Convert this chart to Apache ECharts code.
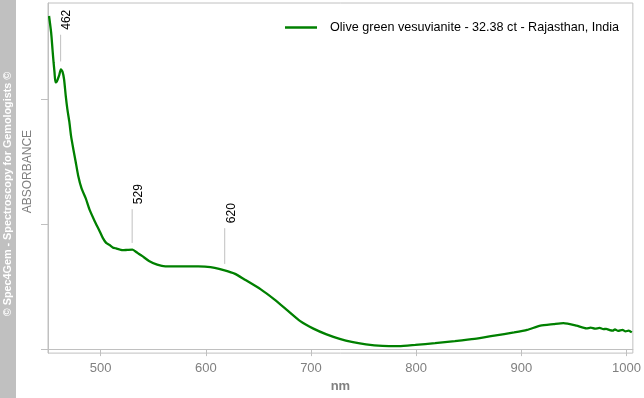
<!DOCTYPE html>
<html>
<head>
<meta charset="utf-8">
<title>vesuvianite absorbance</title>
<script src="https://cdn.jsdelivr.net/npm/echarts@6/dist/echarts.min.js"></script>
<style>
  html, body { margin: 0; padding: 0; background: #fff; }
  #chart { width: 644px; height: 398px; }
</style>
</head>
<body>
<div id="chart"></div>
<script>
// spectrum (nm / relative absorbance)
var wavelengths = [451, 453, 454.3, 455.3, 456.2, 457.1, 458.4, 460.6, 462.2, 463.7,
  465.3, 466.9, 468.4, 470.3, 471.9, 474, 476.3, 478.7, 481.9, 485.9,
  489.7, 494.4, 499.1, 502.2, 505.3, 508.4, 511.5, 514.7, 520.9, 525.3,
  530.3, 535, 539.7, 546, 553.8, 561.6, 577.2, 592.9, 599.2, 608.5,
  617.9, 627.3, 636.7, 652.3, 664.8, 677.3, 689.8, 702.3, 714.8, 727.3,
  739.9, 752.3, 768, 783.6, 799.2, 818, 836.8, 855.5, 874.3, 893.1,
  905.5, 918.1, 930.6, 940, 952.4, 961.8, 966, 970, 974.4, 978,
  980.6, 984, 986.9, 989, 992, 996.2, 999, 1002, 1005];
var absorbance = [1.333, 1.266, 1.198, 1.147, 1.107, 1.067, 1.071, 1.095, 1.119, 1.111,
  1.079, 1.012, 0.960, 0.909, 0.853, 0.802, 0.750, 0.694, 0.643, 0.603,
  0.556, 0.512, 0.472, 0.444, 0.425, 0.417, 0.407, 0.403, 0.396, 0.397,
  0.398, 0.385, 0.372, 0.353, 0.338, 0.331, 0.331, 0.331, 0.330, 0.325,
  0.315, 0.302, 0.279, 0.239, 0.200, 0.156, 0.112, 0.082, 0.059, 0.041,
  0.028, 0.019, 0.013, 0.012, 0.017, 0.024, 0.032, 0.041, 0.054, 0.067,
  0.077, 0.094, 0.100, 0.104, 0.094, 0.083, 0.086, 0.082, 0.085, 0.080,
  0.081, 0.076, 0.074, 0.079, 0.073, 0.077, 0.071, 0.074, 0.067];

var seriesName = 'Olive green vesuvianite - 32.38 ct - Rajasthan, India';
var xTicks = [500, 600, 700, 800, 900, 1000];
var yTicks = [0, 0.5, 1];

// peak marks: where the line sits, its bottom/top and the printed label
var peakPos = [462, 530, 618];
var peakBottom = [1.151, 0.425, 0.341];
var peakTop = [1.258, 0.560, 0.484];
var peakLabels = ['462', '529', '620'];

var lineData = wavelengths.map(function (w, i) { return [w, absorbance[i]]; });
var peakData = peakPos.map(function (p, i) { return [p, peakBottom[i], peakTop[i]]; });

var myChart = echarts.init(document.getElementById('chart'), null, { renderer: 'canvas' });

var option = {
  animation: false,
  backgroundColor: '#fff',
  grid: {
    left: 48, right: 4, top: 3, bottom: 42,
    show: true, borderColor: '#c0c0c0', borderWidth: 1
  },
  legend: {
    left: 285, top: 21, padding: 0,
    itemWidth: 32, itemHeight: 2.5,
    data: [{ name: seriesName, icon: 'rect' }],
    textStyle: { fontFamily: 'Arial, "Liberation Sans", sans-serif', fontSize: 12.6, color: '#000', padding: [0, 0, 0, 8] }
  },
  xAxis: {
    type: 'value',
    min: 450, max: 1006,
    name: 'nm', nameLocation: 'middle', nameGap: 25,
    nameTextStyle: { fontFamily: 'Arial, "Liberation Sans", sans-serif', fontWeight: 'bold', fontSize: 13, color: '#808080' },
    axisLine: { show: true, lineStyle: { color: '#c0c0c0' } },
    axisTick: { show: true, length: 7, customValues: xTicks, lineStyle: { color: '#c0c0c0' } },
    axisLabel: {
      customValues: xTicks, margin: 9,
      formatter: function (v) { return String(v); },
      fontFamily: 'Arial, "Liberation Sans", sans-serif', fontSize: 13, color: '#808080'
    },
    splitLine: { show: false }
  },
  yAxis: {
    type: 'value',
    min: -0.0159, max: 1.385,
    name: 'ABSORBANCE', nameLocation: 'middle', nameGap: 14,
    nameTextStyle: { fontFamily: 'Arial, "Liberation Sans", sans-serif', fontSize: 12, color: '#808080', padding: [0, 0, 0, 13] },
    axisLine: { show: true, lineStyle: { color: '#c0c0c0' } },
    axisTick: { show: true, length: 7, customValues: yTicks, lineStyle: { color: '#c0c0c0' } },
    axisLabel: { show: false },
    splitLine: { show: false }
  },
  graphic: [
    { type: 'rect', left: 0, top: 0, shape: { width: 16, height: 398 }, style: { fill: '#c0c0c0' }, silent: true },
    {
      type: 'text', x: 8, y: 194, rotation: Math.PI / 2,
      style: {
        text: '© Spec4Gem - Spectroscopy for Gemologists ©',
        font: 'bold 10.8px Arial, "Liberation Sans", sans-serif',
        fill: '#fff', align: 'center', verticalAlign: 'middle'
      }
    }
  ],
  series: [
    {
      name: seriesName,
      type: 'line',
      data: lineData,
      symbol: 'none',
      smooth: 0.2,
      color: '#008000',
      lineStyle: { color: '#008000', width: 2.3 }
    },
    {
      // vertical marker lines with rotated wavelength labels
      name: 'peaks',
      type: 'custom',
      data: peakData,
      encode: { x: 0, y: [1, 2] },
      silent: true,
      renderItem: function (params, api) {
        var bot = api.coord([api.value(0), api.value(1)]);
        var top = api.coord([api.value(0), api.value(2)]);
        return {
          type: 'group',
          children: [
            {
              type: 'line',
              shape: { x1: bot[0], y1: bot[1], x2: top[0], y2: top[1] },
              style: { stroke: '#c0c0c0', lineWidth: 1 }
            },
            {
              type: 'text',
              x: top[0] + 0.5, y: top[1] - 5,
              rotation: Math.PI / 2,
              style: {
                text: peakLabels[params.dataIndex],
                font: '12px Arial, "Liberation Sans", sans-serif',
                fill: '#000', align: 'left', verticalAlign: 'top'
              }
            }
          ]
        };
      }
    }
  ]
};

myChart.setOption(option);
</script>
</body>
</html>
